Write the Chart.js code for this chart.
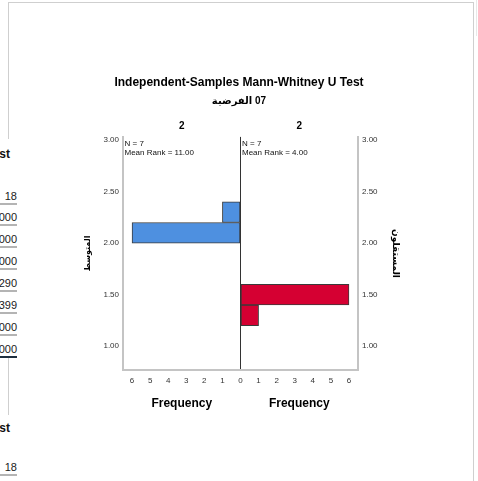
<!DOCTYPE html>
<html>
<head>
<meta charset="utf-8">
<script src="https://cdn.jsdelivr.net/npm/chart.js@4.4.1/dist/chart.umd.min.js"></script>
<style>
  html, body { margin: 0; padding: 0; background: #fff; width: 478px; height: 481px; overflow: hidden; }
  #frame { position: absolute; left: 8px; top: 2px; width: 464px; height: 500px;
           border: 1.5px solid #cfcfcf; border-bottom: none; }
  #edge { position: absolute; left: 476px; top: 0; width: 1px; height: 36px; background: #e8e8e8; }
  .mask { position: absolute; left: 0; width: 20px; background: #fff; }
  .cell { position: absolute; right: 461px; font: 11px 'Liberation Sans', Arial, sans-serif; color: #1a1a1a;
          white-space: nowrap; line-height: 13px; }
  .cell.head { font-weight: bold; font-size: 12px; right: 468px; color: #111; }
  .rule { position: absolute; left: 0; width: 17px; height: 2px; background: #b4b4b4; }
  .rule.dark { background: #1e2f3f; }
  #wrap { position: absolute; left: 0; top: 0; width: 478px; height: 481px; }
</style>
</head>
<body>
<div id="frame"></div>
<div id="edge"></div>
<div id="side"></div>
<div id="wrap"><canvas id="chart" width="478" height="481"></canvas></div>
<script>
// ---- chart data ----
const chartTitle = 'Independent-Samples Mann-Whitney U Test';
const chartSubtitle = 'الفرضية\u200E 07';
const groupLabels = ['2', '2'];
const groupN = [7, 7];
const meanRanks = [11.00, 4.00];
const leftAxisTitle = 'المتوسط';
const rightAxisTitle = 'المستقلون';

// histogram bins (lower edge of each bin) and counts for each group
const binWidth = 0.2;
const leftBinLow = [2.0, 2.2];
const leftFreq = [6, 1];
const rightBinLow = [1.2, 1.4];
const rightFreq = [1, 6];

// axis ranges and ticks
const valueMin = 0.77;
const valueMax = 3.03;
const valueTicks = [1.0, 1.5, 2.0, 2.5, 3.0];
const freqMin = -6.5;
const freqMax = 6.5;
const freqTicks = [-6, -5, -4, -3, -2, -1, 0, 1, 2, 3, 4, 5, 6];

// summary table column partly visible on the left
const sideHeads = [{ text: 'st', y: 153 }, { text: 'st', y: 427 }];
const sideCells = ['18', '000', '000', '000', '290', '399', '000', '000'];
const sideTail = '18';

// ---- side table ----
const FONT = "'Liberation Sans', Arial, 'DejaVu Sans', sans-serif";
(function buildSide() {
  const side = document.getElementById('side');
  const add = (cls, css, text) => {
    const d = document.createElement('div');
    d.className = cls;
    Object.assign(d.style, css);
    if (text !== undefined) d.textContent = text;
    side.appendChild(d);
  };
  add('mask', { top: '139px', height: '219px' });
  add('mask', { top: '415px', height: '70px' });
  sideHeads.forEach(h => add('cell head', { top: (h.y - 5) + 'px' }, h.text));
  sideCells.forEach((t, i) => {
    const cy = 196 + i * 21.9;
    add('cell', { top: (cy - 6.5) + 'px' }, t);
    add('rule' + (i === sideCells.length - 1 ? ' dark' : ''), { top: (cy + 6.5) + 'px' });
  });
  add('cell', { top: (467 - 6.5) + 'px' }, sideTail);
  add('rule', { top: (467 + 6.5) + 'px' });
})();

// ---- chart ----
const blueBars = leftBinLow.map((lo, i) => ({ y: lo + binWidth / 2, x: [-leftFreq[i], 0] }));
const redBars = rightBinLow.map((lo, i) => ({ y: lo + binWidth / 2, x: [0, rightFreq[i]] }));

const setTicks = list => scale => { scale.ticks = list.map(v => ({ value: v })); };

// group headers, counts and "Frequency" captions for each half
const panelText = {
  id: 'panelText',
  afterDraw(chart) {
    const { ctx, chartArea: a, scales: { x } } = chart;
    const x0 = x.getPixelForValue(0);
    const halves = [[a.left, x0], [x0, a.right]];
    ctx.save();
    halves.forEach(([l, r], i) => {
      const cx = (l + r) / 2;
      ctx.fillStyle = '#000';
      ctx.textAlign = 'center';
      ctx.textBaseline = 'middle';
      ctx.font = 'bold 10px ' + FONT;
      ctx.fillText(groupLabels[i], cx, a.top - 10.5);
      ctx.font = 'bold 12px ' + FONT;
      ctx.fillText('Frequency', cx, a.bottom + 34);
      ctx.textAlign = 'left';
      ctx.font = '8px ' + FONT;
      ctx.fillStyle = '#111';
      ctx.fillText('N = ' + groupN[i], l + 1.5, a.top + 7.3);
      ctx.fillText('Mean Rank = ' + meanRanks[i].toFixed(2), l + 1.5, a.top + 15.7);
    });
    ctx.restore();
  }
};

const tickFont = { family: FONT, size: 8 };
const axisBorder = { color: '#c4c4c4', width: 2 };

new Chart(document.getElementById('chart'), {
  type: 'bar',
  data: {
    datasets: [
      { label: groupLabels[0], data: blueBars, backgroundColor: '#4e90e0', borderColor: '#3a3a3a',
        borderWidth: 1, borderSkipped: false, grouped: false, barPercentage: 1, categoryPercentage: 1 },
      { label: groupLabels[1], data: redBars, backgroundColor: '#d50032', borderColor: '#3a3a3a',
        borderWidth: 1, borderSkipped: false, grouped: false, barPercentage: 1, categoryPercentage: 1 }
    ]
  },
  options: {
    indexAxis: 'y',
    responsive: false,
    animation: false,
    layout: { padding: { top: 0, left: 70, right: 70, bottom: 71 } },
    plugins: {
      legend: { display: false },
      tooltip: { enabled: false },
      title: { display: true, text: chartTitle, color: '#000',
               font: { family: FONT, size: 12, weight: 'bold' }, padding: { top: 75, bottom: 3 } },
      subtitle: { display: true, text: chartSubtitle, color: '#000',
                  font: { family: FONT, size: 10, weight: 'bold' }, padding: { top: 2.5, bottom: 30 } }
    },
    scales: {
      x: {
        type: 'linear', min: freqMin, max: freqMax,
        afterBuildTicks: setTicks(freqTicks),
        afterFit: s => { s.height = 40; },
        ticks: { callback: v => Math.abs(v), font: tickFont, color: '#333', padding: 6,
                 maxRotation: 0, autoSkip: false },
        grid: { drawTicks: false, lineWidth: 1,
                color: c => (c.tick && c.tick.value === 0) ? '#333' : 'rgba(0,0,0,0)' },
        border: axisBorder
      },
      y: {
        type: 'linear', position: 'left', min: valueMin, max: valueMax, offset: false,
        afterBuildTicks: setTicks(valueTicks),
        afterFit: s => { s.width = 53; },
        ticks: { callback: v => v.toFixed(2), font: tickFont, color: '#333', padding: 4, autoSkip: false },
        grid: { drawTicks: false, offset: false, color: 'rgba(0,0,0,0)' },
        border: axisBorder,
        title: { display: true, text: leftAxisTitle, color: '#000',
                 font: { family: FONT, size: 8, weight: 'bold' }, padding: { top: 13 } }
      },
      y2: {
        type: 'linear', position: 'right', min: valueMin, max: valueMax, offset: false,
        afterBuildTicks: setTicks(valueTicks),
        afterFit: s => { s.width = 50; },
        ticks: { callback: v => v.toFixed(2), font: tickFont, color: '#333', padding: 4, autoSkip: false },
        grid: { drawTicks: false, offset: false, color: 'rgba(0,0,0,0)' },
        border: axisBorder,
        title: { display: true, text: rightAxisTitle, color: '#000',
                 font: { family: FONT, size: 9, weight: 'bold' }, padding: { top: 7 } }
      }
    }
  },
  plugins: [panelText]
});
</script>
</body>
</html>
